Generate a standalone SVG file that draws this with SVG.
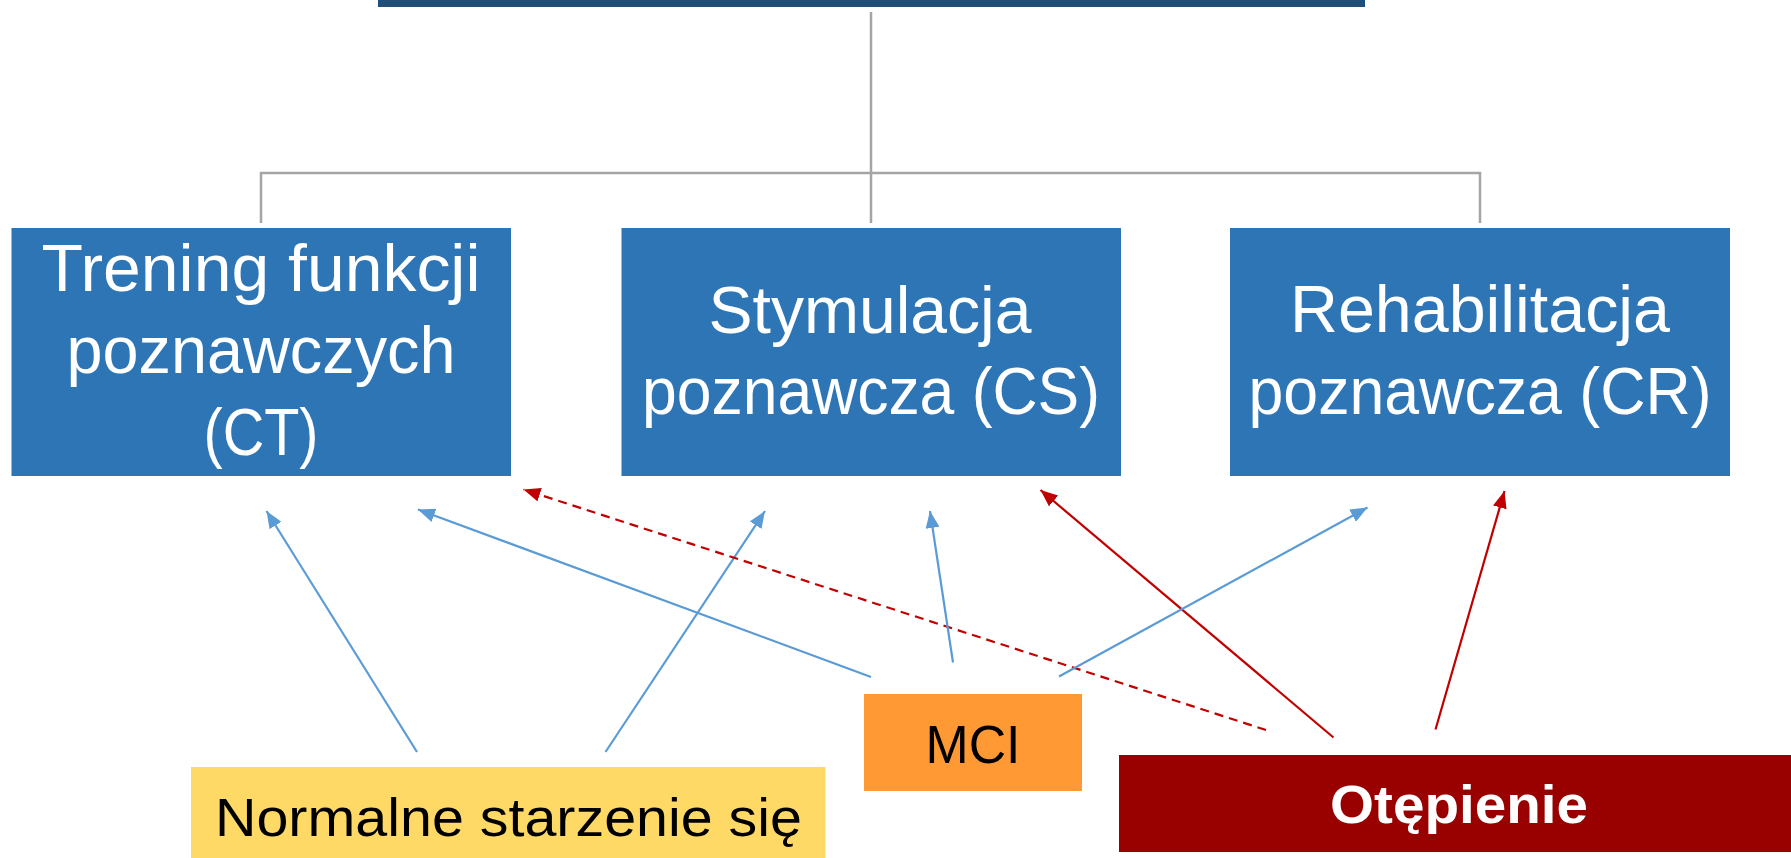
<svg xmlns="http://www.w3.org/2000/svg" width="1791" height="858" viewBox="0 0 1791 858">
<style>
.box{fill:#2E75B6}
.bt{font-family:"Liberation Sans",Arial,sans-serif;font-size:66px;fill:#FFFFFF;text-anchor:middle}
.lt{font-family:"Liberation Sans",Arial,sans-serif;font-size:53px;fill:#000000;text-anchor:middle}
.tree{stroke:#A5A5A5;stroke-width:2.5;fill:none}
.blue{stroke:#5B9BD5;stroke-width:2.2;fill:none;marker-end:url(#ab)}
.red{stroke:#C00000;stroke-width:2.2;fill:none;marker-end:url(#ar)}
.dash{stroke-dasharray:9 6}
</style>
<defs>
<marker id="ab" markerUnits="userSpaceOnUse" markerWidth="17" markerHeight="14" refX="17" refY="7" orient="auto" viewBox="0 0 17 14"><path d="M0,0 L17,7 L0,14 z" fill="#5B9BD5"/></marker>
<marker id="ar" markerUnits="userSpaceOnUse" markerWidth="17" markerHeight="14" refX="17" refY="7" orient="auto" viewBox="0 0 17 14"><path d="M0,0 L17,7 L0,14 z" fill="#C00000"/></marker>
</defs>
<rect width="1791" height="858" fill="#FFFFFF"/>
<g id="top"><rect x="378" y="0" width="987" height="7" fill="#1F4E79"/></g>
<g id="tree-connectors">
<path class="tree" d="M871,12 V223 M261,223 V173 H1480 V223"/>
</g>
<g id="ct"><rect class="box" x="11.5" y="228" width="499.5" height="248"/>
<text class="bt" x="261" y="291" textLength="439" lengthAdjust="spacingAndGlyphs">Trening funkcji</text>
<text class="bt" x="261" y="373" textLength="389" lengthAdjust="spacingAndGlyphs">poznawczych</text>
<text class="bt" x="261" y="455" textLength="115" lengthAdjust="spacingAndGlyphs">(CT)</text></g>
<g id="cs"><rect class="box" x="621.5" y="228" width="499.5" height="248"/>
<text class="bt" x="870" y="333" textLength="323" lengthAdjust="spacingAndGlyphs">Stymulacja</text>
<text class="bt" x="871" y="414" textLength="458" lengthAdjust="spacingAndGlyphs">poznawcza (CS)</text></g>
<g id="cr"><rect class="box" x="1230" y="228" width="500" height="248"/>
<text class="bt" x="1480" y="332" textLength="380" lengthAdjust="spacingAndGlyphs">Rehabilitacja</text>
<text class="bt" x="1480" y="414" textLength="463" lengthAdjust="spacingAndGlyphs">poznawcza (CR)</text></g>
<g id="normal"><rect x="191" y="767" width="634.5" height="91" fill="#FFD966"/>
<text class="lt" x="508.5" y="836" textLength="587" lengthAdjust="spacingAndGlyphs">Normalne starzenie się</text></g>
<g id="mci"><rect x="864" y="694" width="218" height="97" fill="#FF9933"/>
<text class="lt" x="973" y="763" font-size="56" textLength="95" lengthAdjust="spacingAndGlyphs">MCI</text></g>
<g id="dementia"><rect x="1119" y="755" width="672" height="97" fill="#990000"/>
<text class="lt" x="1459" y="823" font-size="58" font-weight="bold" style="fill:#FFFFFF" textLength="258" lengthAdjust="spacingAndGlyphs">Otępienie</text></g>
<g id="connectors">
<line class="blue" x1="417" y1="752" x2="266.5" y2="511"/>
<line class="blue" x1="605.5" y1="752" x2="765" y2="511"/>
<line class="blue" x1="871" y1="677" x2="418" y2="509.5"/>
<line class="red dash" x1="1266" y1="730" x2="523.5" y2="489.5"/>
<line class="blue" x1="953" y1="662.5" x2="930" y2="511"/>
<line class="red" x1="1333.5" y1="737.5" x2="1040.5" y2="490"/>
<line class="blue" x1="1059" y1="676.5" x2="1367.5" y2="507.5"/>
<line class="red" x1="1435.5" y1="729.5" x2="1504.5" y2="491"/>
</g>
</svg>
